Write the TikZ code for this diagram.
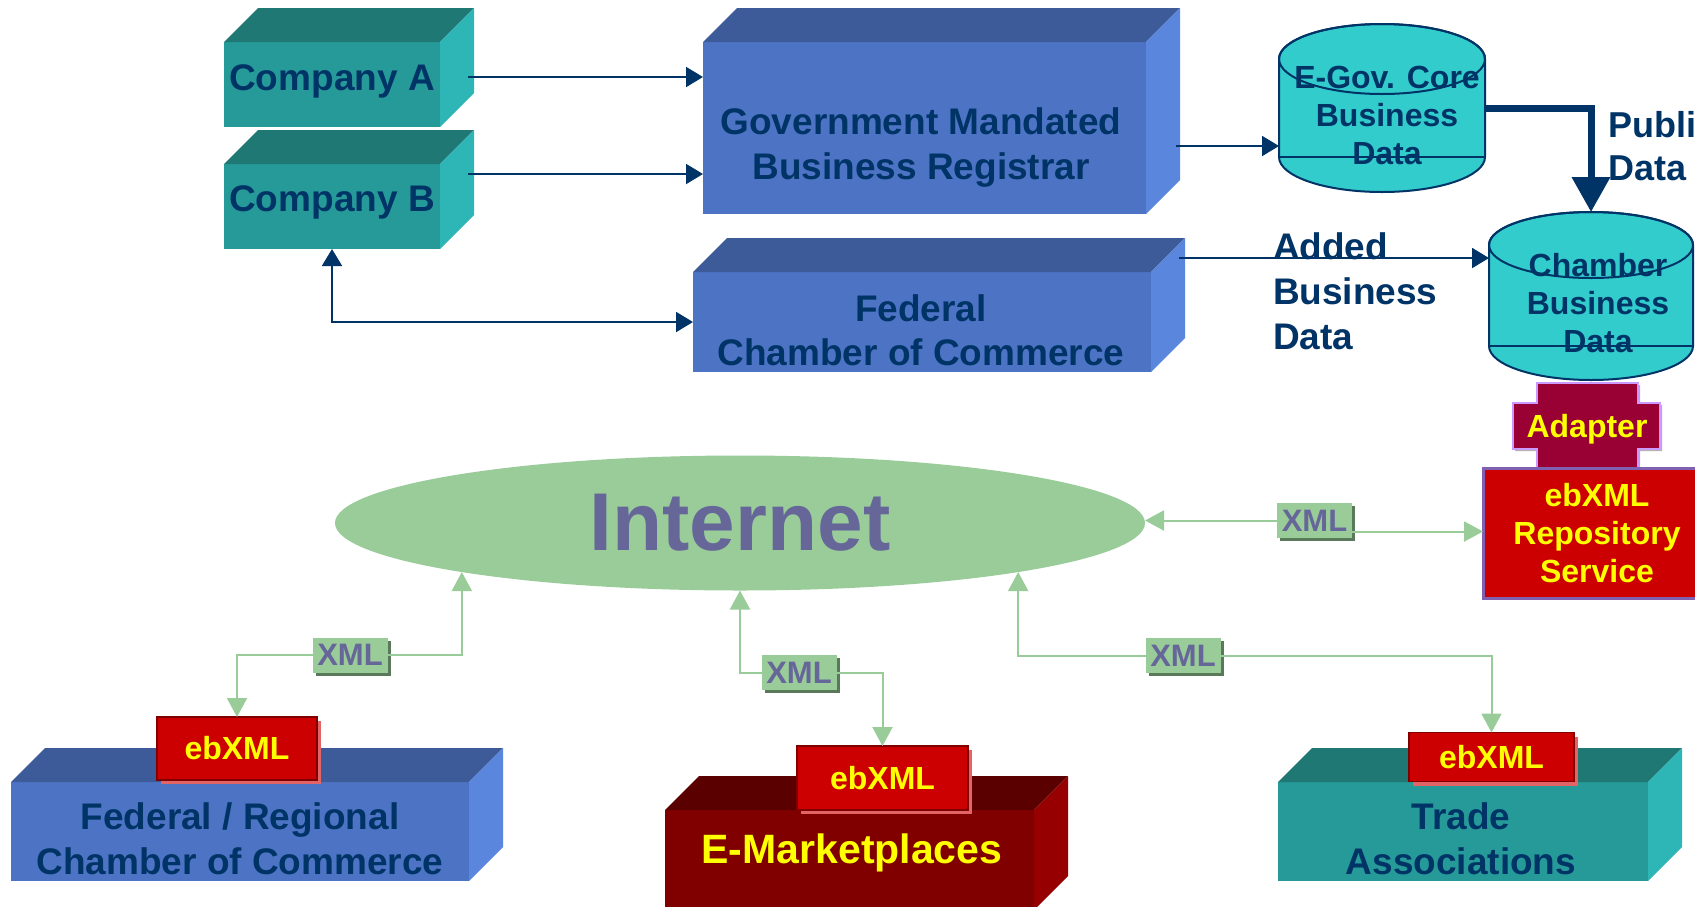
\documentclass[tikz,border=0pt]{standalone}
\usepackage{fontspec}
\setmainfont{Liberation Sans}
\usetikzlibrary{arrows.meta,shapes.geometric,shadows}

\definecolor{navy}{RGB}{0,51,102}
\definecolor{tealfront}{RGB}{38,154,152}
\definecolor{tealtop}{RGB}{31,120,116}
\definecolor{tealside}{RGB}{46,181,181}
\definecolor{bluefront}{RGB}{77,116,196}
\definecolor{bluetop}{RGB}{61,91,153}
\definecolor{blueside}{RGB}{91,134,222}
\definecolor{marfront}{RGB}{128,0,0}
\definecolor{martop}{RGB}{90,0,0}
\definecolor{marside}{RGB}{150,0,0}
\definecolor{cylfill}{RGB}{51,204,204}
\definecolor{netgreen}{RGB}{153,204,153}
\definecolor{netshade}{RGB}{90,120,90}
\definecolor{netink}{RGB}{102,102,153}
\definecolor{ebred}{RGB}{204,0,0}
\definecolor{ebdark}{RGB}{128,0,0}
\definecolor{ebshade}{RGB}{226,100,100}
\definecolor{adaptfill}{RGB}{153,0,51}
\definecolor{lavender}{RGB}{204,153,255}
\definecolor{repoedge}{RGB}{128,96,176}
\definecolor{sunyellow}{RGB}{255,255,0}

% top and right faces of a block, hung on its front node
\newcommand\slabsides[2]{%
	\fill[#2top] (#1.north west) -- ++(34,-34) -- ([shift={(34,-34)}]#1.north east) -- (#1.north east) -- cycle;
	\fill[#2side] (#1.north east) -- ++(34,-34) -- ([shift={(34,-34)}]#1.south east) -- (#1.south east) -- cycle;}

\begin{document}
\begin{tikzpicture}[x=1pt,y=-1pt]
	\tikzstyle{every node}=[inner sep=0pt, outer sep=0pt, font=\bfseries]
	\tikzstyle{face}=[rectangle]
	\tikzstyle{bigtext}=[text=navy, align=center, font=\bfseries\fontsize{37}{45}\selectfont]
	\tikzstyle{cyltext}=[text=navy, align=center, font=\bfseries\fontsize{32}{38}\selectfont]
	\tikzstyle{cylbody}=[fill=cylfill, draw=navy, line width=2pt]
	\tikzstyle{navyarrow}=[draw=navy, line width=2pt, -{Triangle[length=17pt,width=20pt]}]
	\tikzstyle{navyboth}=[draw=navy, line width=2pt, {Triangle[length=17pt,width=20pt]}-{Triangle[length=17pt,width=20pt]}]
	\tikzstyle{publisharrow}=[draw=navy, line width=7pt, -{Triangle[length=35pt,width=37pt]}]
	\tikzstyle{netarrow}=[draw=netgreen, line width=2pt, -{Triangle[length=19pt,width=20pt]}]
	\tikzstyle{xmltag}=[fill=netgreen, text=netink, minimum width=75, minimum height=35,
		font=\bfseries\fontsize{31}{35}\selectfont,
		drop shadow={shadow xshift=3pt, shadow yshift=-3pt, fill=netshade, opacity=1}]
	\tikzstyle{ebtag}=[fill=ebred, draw=ebdark, line width=1.5pt, text=sunyellow,
		font=\bfseries\fontsize{32}{37}\selectfont,
		drop shadow={shadow xshift=4pt, shadow yshift=-4pt, fill=ebshade, opacity=1}]
	\useasboundingbox (0,0) rectangle (1695,906);
	\clip (0,0) rectangle (1695,906);

	% upper blocks
	\node[face, fill=tealfront, minimum width=216, minimum height=85] (compa) at (332,84.5) {};
	\slabsides{compa}{teal}
	\node[face, fill=tealfront, minimum width=216, minimum height=85] (compb) at (332,206.5) {};
	\slabsides{compb}{teal}
	\node[face, fill=bluefront, minimum width=443, minimum height=172] (govt) at (924.5,128) {};
	\slabsides{govt}{blue}
	\node[face, fill=bluefront, minimum width=458, minimum height=100] (fedcc) at (922,322) {};
	\slabsides{fedcc}{blue}
	\node[bigtext] (compa-label) at (332,81) {Company A};
	\node[bigtext] (compb-label) at (332,202) {Company B};
	\node[bigtext] (govt-label) at (921,148) {Government Mandated\\Business Registrar};
	\node[bigtext, font=\bfseries\fontsize{37}{44}\selectfont] (fedcc-label) at (921,330) {Federal\\Chamber of Commerce};

	% data stores
	\filldraw[cylbody] (1279,59) -- (1279,157) arc[start angle=180, end angle=0, x radius=103, y radius=35]
		-- (1485,59) arc[start angle=0, end angle=-180, x radius=103, y radius=35] -- cycle;
	\draw[navy, line width=2pt] (1382,59) ellipse [x radius=103, y radius=35];
	\draw[navy, line width=2pt] (1279,157) -- (1485,157);
	\filldraw[cylbody] (1489,245) -- (1489,346) arc[start angle=180, end angle=0, x radius=102, y radius=34]
		-- (1693,245) arc[start angle=0, end angle=-180, x radius=102, y radius=33] -- cycle;
	\draw[navy, line width=2pt] (1591,245) ellipse [x radius=102, y radius=33];
	\draw[navy, line width=2pt] (1489,346) -- (1693,346);
	\node[cyltext, minimum width=206, minimum height=168] (egov) at (1382,108) {};
	\node[cyltext, minimum width=204, minimum height=168] (chamber) at (1591,296) {};
	\node[cyltext] (egov-label) at (1387,115) {E-Gov. Core\\Business\\Data};
	\node[cyltext] (chamber-label) at (1598,303) {Chamber\\Business\\Data};

	% navy connectors
	\coordinate (compa-out) at ([xshift=28pt,yshift=7.5pt]compa.east);
	\coordinate (compb-out) at ([xshift=28pt,yshift=32.5pt]compb.east);
	\coordinate (govt-out) at ([xshift=30pt,yshift=-18pt]govt.east);
	\coordinate (fedcc-out) at ([xshift=28pt,yshift=64pt]fedcc.east);
	\draw[navyarrow] (compa-out) -- (compa-out -| govt.west);
	\draw[navyarrow] (compb-out) -- (compb-out -| govt.west);
	\draw[navyboth] (compb.south) |- (fedcc.west);
	\draw[navyarrow] (govt-out) -- (govt-out -| egov.west);
	\draw[navyarrow] (fedcc-out) -- (fedcc-out -| chamber.west);
	\draw[publisharrow] (egov.east) -| (chamber.north);
	\node[bigtext, align=left, anchor=west] (added-label) at (1273,291) {Added\\Business\\Data};
	\node[bigtext, align=left, anchor=west, font=\bfseries\fontsize{36}{43}\selectfont] (publish-label) at (1608,146) {Publi\\Data};

	% adapter and repository
	\filldraw[fill=adaptfill, draw=lavender, line width=2pt,
		drop shadow={shadow xshift=2pt, shadow yshift=-2pt, fill=gray!60, opacity=1}]
		(1537,383) -- (1638,383) -- (1638,403) -- (1660,403) -- (1660,449) -- (1638,449) -- (1638,468)
		-- (1537,468) -- (1537,449) -- (1513,449) -- (1513,403) -- (1537,403) -- cycle;
	\node[text=sunyellow, font=\bfseries\fontsize{32}{37}\selectfont] (adapter) at (1587,429) {Adapter};
	\node[fill=ebred, draw=repoedge, line width=3pt, minimum width=228, minimum height=130,
		text=sunyellow, align=center, font=\bfseries\fontsize{32}{38}\selectfont] (repo) at (1597,533)
		{ebXML\\Repository\\Service};

	% internet
	\node[ellipse, fill=netgreen, minimum width=810, minimum height=135, text=netink,
		font=\bfseries\fontsize{82}{90}\selectfont] (internet) at (740,523) {Internet};

	% lower blocks
	\node[face, fill=bluefront, minimum width=458, minimum height=99] (fedreg) at (240,831.5) {};
	\slabsides{fedreg}{blue}
	\node[face, fill=marfront, minimum width=369, minimum height=100] (emkt) at (849.5,860) {};
	\slabsides{emkt}{mar}
	\node[face, fill=tealfront, minimum width=370, minimum height=99] (trade) at (1463,831.5) {};
	\slabsides{trade}{teal}
	\node[ebtag, minimum width=160, minimum height=63] (ebxmla) at (237,748.5) {ebXML};
	\node[ebtag, minimum width=171, minimum height=64] (ebxmlb) at (882.5,778) {ebXML};
	\node[ebtag, minimum width=165, minimum height=49] (ebxmlc) at (1491.5,757) {ebXML};
	\node[bigtext] (fedreg-label) at (240,838.5) {Federal / Regional\\Chamber of Commerce};
	\node[text=sunyellow, font=\bfseries\fontsize{41}{45}\selectfont] (emkt-label) at (852,853) {E-Marketplaces};
	\node[bigtext] (trade-label) at (1461,838.5) {Trade\\Associations};

	% xml links
	\node[xmltag] (xmll) at (350,655) {XML};
	\node[xmltag] (xmlm) at (799,672.5) {XML};
	\node[xmltag] (xmlt) at (1183,655.5) {XML};
	\node[xmltag] (xmlr) at (1314.5,520.5) {XML};
	\draw[netarrow] (xmll.east) -| (internet.190);
	\draw[netarrow] (xmll.west) -| (ebxmla.north);
	\draw[netarrow] (xmlm.west) -| (internet.south);
	\draw[netarrow] (xmlm.east) -| (ebxmlb.north);
	\draw[netarrow] (xmlt.west) -| (internet.350);
	\draw[netarrow] (xmlt.east) -| (ebxmlc.north);
	\coordinate (xmlr-out) at ([yshift=-11pt]xmlr.east);
	\draw[netarrow] (xmlr.west) -- (xmlr.west -| internet.east);
	\draw[netarrow] (xmlr-out) -- (xmlr-out -| repo.west);
\end{tikzpicture}
\end{document}
